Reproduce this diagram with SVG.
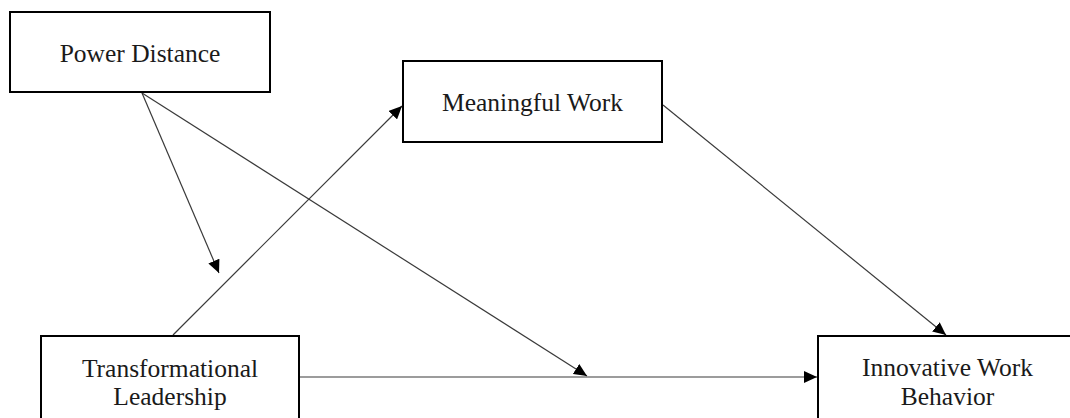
<svg xmlns="http://www.w3.org/2000/svg" width="1070" height="418" viewBox="0 0 1070 418">
  <style>
    .box { fill: #ffffff; stroke: #000000; stroke-width: 2; }
    .lbl { font-family: "Liberation Serif", "Times New Roman", serif; font-size: 25.5px; fill: #1a1a1a; text-anchor: middle; }
    .edge { stroke: #3a3a3a; stroke-width: 1.2; fill: none; }
  </style>
  <defs>
    <marker id="arrow" markerUnits="userSpaceOnUse" markerWidth="14" markerHeight="12" refX="13" refY="6" orient="auto">
      <path d="M0,0 L13,6 L0,12 z" fill="#000000"/>
    </marker>
  </defs>
  <rect x="0" y="0" width="1070" height="418" fill="#ffffff"/>
  <g id="connectors">
    <line class="edge" x1="142" y1="93" x2="219" y2="273" marker-end="url(#arrow)"/>
    <line class="edge" x1="142" y1="93" x2="587" y2="376" marker-end="url(#arrow)"/>
    <line class="edge" x1="173" y1="335" x2="402" y2="106" marker-end="url(#arrow)"/>
    <line class="edge" x1="663" y1="105" x2="946" y2="335" marker-end="url(#arrow)"/>
    <line class="edge" x1="300" y1="377" x2="817" y2="377" marker-end="url(#arrow)"/>
  </g>
  <g id="power-distance">
    <rect class="box" x="10" y="12" width="260" height="80"/>
    <text class="lbl" x="140" y="62">Power Distance</text>
  </g>
  <g id="meaningful-work">
    <rect class="box" x="403" y="61" width="259" height="81"/>
    <text class="lbl" x="532.5" y="111">Meaningful Work</text>
  </g>
  <g id="transformational-leadership">
    <rect class="box" x="41" y="336" width="258" height="100"/>
    <text class="lbl" x="170" y="377">Transformational</text>
    <text class="lbl" x="170" y="405">Leadership</text>
  </g>
  <g id="innovative-work-behavior">
    <rect class="box" x="818" y="336" width="259" height="100"/>
    <text class="lbl" x="947.5" y="376">Innovative Work</text>
    <text class="lbl" x="947.5" y="405">Behavior</text>
  </g>
</svg>
